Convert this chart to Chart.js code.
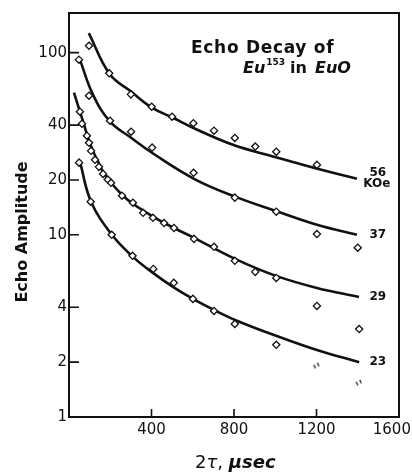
<!DOCTYPE html>
<html>
<head>
<meta charset="utf-8">
<script src="https://cdn.jsdelivr.net/npm/chart.js@4.4.0/dist/chart.umd.min.js"></script>
<style>
  html, body { margin: 0; background: #fff; }
</style>
</head>
<body>
<canvas id="chartEcho" width="412" height="472"></canvas>
<script>
// tick values
const xTicks = [400, 800, 1200, 1600];
const yTicks = [1, 2, 4, 10, 20, 40, 100];

// measured points, 2tau (usec) vs echo amplitude
const tau56 = [97, 195, 300, 401, 500, 603, 703, 804, 903, 1005, 1202];
const amp56 = [109, 77, 59, 50.5, 44.5, 41, 37.3, 34, 30.5, 28.6, 24.2];
const tau37 = [48, 97, 199, 301, 403, 604, 804, 1005, 1202, 1400];
const amp37 = [91.5, 58, 42.3, 36.8, 30.1, 21.9, 16, 13.4, 10.1, 8.5];
const tau29 = [53, 63, 87, 97, 107, 126, 145, 165, 188, 204, 257, 310, 359, 407, 461, 509, 606, 703, 804, 903, 1005, 1202, 1407];
const amp29 = [47.4, 40.7, 35.0, 32.0, 28.9, 25.8, 23.6, 21.6, 20.1, 19.3, 16.4, 15.0, 13.2, 12.4, 11.6, 10.9, 9.5, 8.59, 7.2, 6.26, 5.8, 4.07, 3.04];
const tau23 = [49, 105, 207, 308, 409, 508, 601, 703, 804, 1005];
const amp23 = [24.9, 15.2, 10.0, 7.67, 6.5, 5.45, 4.45, 3.82, 3.24, 2.49];
// the two broken marks at the end of 23
const tau23b = [1202, 1407];
const amp23b = [1.91, 1.54];

// drawn curves
const fitTau56 = [96, 197, 301, 402, 504, 601, 795, 960, 1120, 1280, 1396];
const fitAmp56 = [128, 76.3, 61.1, 49.9, 43.9, 38.7, 31.2, 27.5, 24.5, 21.9, 20.3];
const fitTau37 = [53, 116, 199, 301, 402, 606, 805, 1004, 1202, 1396];
const fitAmp37 = [91.5, 58.8, 41.8, 34.1, 28.2, 20.3, 16.2, 13.5, 11.35, 10.0];
const fitTau29 = [24, 53, 73, 92, 116, 141, 165, 204, 257, 310, 407, 509, 606, 805, 1004, 1202, 1406];
const fitAmp29 = [60.3, 47.4, 40.2, 34.1, 28.9, 25.2, 22.2, 19.3, 16.6, 14.8, 12.6, 10.9, 9.63, 7.38, 5.95, 5.11, 4.56];
const fitTau23 = [53, 107, 208, 310, 407, 504, 601, 703, 805, 1004, 1202, 1407];
const fitAmp23 = [25.2, 15.2, 10.0, 7.57, 6.18, 5.18, 4.45, 3.87, 3.41, 2.79, 2.33, 2.0];

const fieldLabels = ['56', '37', '29', '23'];

const ink = '#111';

function zip(xs, ys) {
    return xs.map((x, i) => ({ x: x, y: ys[i] }));
}

// little "ı ı" mark for the broken diamonds
let brokenMark = document.createElement('canvas');
brokenMark.width = 9;
brokenMark.height = 10;
let bctx = brokenMark.getContext('2d');
bctx.strokeStyle = ink;
bctx.lineWidth = 1.2;
bctx.beginPath();
bctx.moveTo(1.5, 4); bctx.lineTo(3, 7.5);
bctx.moveTo(5, 2); bctx.lineTo(6.5, 5.5);
bctx.stroke();

function curve(xs, ys) {
    return {
        data: zip(xs, ys),
        borderColor: ink,
        borderWidth: 2.6,
        pointRadius: 0,
        fill: false,
        tension: 0.4,
        order: 1
    };
}

function marks(xs, ys) {
    return {
        data: zip(xs, ys),
        showLine: false,
        pointStyle: 'rectRot',
        pointRadius: 3.6,
        pointBorderWidth: 1.3,
        pointBorderColor: ink,
        pointBackgroundColor: '#fff',
        order: 0
    };
}

// frame, inward ticks and the lettering
const decorations = {
    id: 'decorations',
    afterDraw(chart) {
        const ctx = chart.ctx;
        const area = chart.chartArea;
        const xs = chart.scales.x;
        const ys = chart.scales.y;
        ctx.save();
        ctx.strokeStyle = ink;
        ctx.fillStyle = ink;
        ctx.lineWidth = 2;
        ctx.strokeRect(area.left, area.top, area.right - area.left, area.bottom - area.top);

        ctx.lineWidth = 1.6;
        ctx.beginPath();
        yTicks.forEach(v => {
            if (v === 1) return;
            let y = ys.getPixelForValue(v);
            ctx.moveTo(area.left, y);
            ctx.lineTo(area.left + 10, y);
        });
        xTicks.forEach(v => {
            if (v === 1600) return;
            let x = xs.getPixelForValue(v);
            ctx.moveTo(x, area.bottom);
            ctx.lineTo(x, area.bottom - 8);
        });
        ctx.stroke();

        // heading
        ctx.textAlign = 'left';
        ctx.textBaseline = 'alphabetic';
        ctx.font = 'bold 17px "DejaVu Sans"';
        ctx.letterSpacing = '0.7px';
        ctx.fillText('Echo Decay of', 191, 53);
        ctx.letterSpacing = '0px';
        let hx = 243;
        ctx.font = 'italic bold 16px "DejaVu Sans"';
        ctx.fillText('Eu', hx, 73);
        hx += ctx.measureText('Eu').width + 1;
        ctx.font = 'bold 9px "DejaVu Sans"';
        ctx.fillText('153', hx, 65);
        hx += ctx.measureText('153').width + 5;
        ctx.font = 'bold 16px "DejaVu Sans"';
        ctx.fillText('in', hx, 73);
        ctx.font = 'italic bold 16px "DejaVu Sans"';
        ctx.fillText('EuO', 315, 73);

        // field labels at the end of each curve
        ctx.textAlign = 'center';
        ctx.textBaseline = 'middle';
        ctx.font = 'bold 12px "DejaVu Sans"';
        let lx = xs.getPixelForValue(1400) + 20;
        let ends = [fitAmp56, fitAmp37, fitAmp29, fitAmp23].map(a => a[a.length - 1]);
        fieldLabels.forEach((lab, i) => {
            let y = ys.getPixelForValue(ends[i]);
            if (i === 0) {
                ctx.fillText(lab, lx, y - 6);
                ctx.fillText('KOe', lx - 1, y + 5);
            } else {
                ctx.fillText(lab, lx, y);
            }
        });

        // axis titles
        ctx.save();
        ctx.translate(27, 232);
        ctx.rotate(-Math.PI / 2);
        ctx.textAlign = 'center';
        ctx.textBaseline = 'alphabetic';
        ctx.font = 'bold 16px "DejaVu Sans"';
        ctx.fillText('Echo Amplitude', 0, 0);
        ctx.restore();

        ctx.textAlign = 'left';
        ctx.textBaseline = 'alphabetic';
        let parts = [
            ['2', '18px "DejaVu Sans"'],
            ['\u03c4', 'italic 18px "DejaVu Sans"'],
            [', ', '18px "DejaVu Sans"'],
            ['\u03bcsec', 'italic bold 18px "DejaVu Sans"']
        ];
        let tx = 195;
        parts.forEach(p => {
            ctx.font = p[1];
            ctx.fillText(p[0], tx, 468);
            tx += ctx.measureText(p[0]).width;
        });
        ctx.restore();
    }
};

let ctxEcho = document.getElementById('chartEcho').getContext('2d');

let chartEcho = new Chart(ctxEcho, {
    type: 'line',
    data: {
        datasets: [
            marks(tau56, amp56),
            marks(tau37, amp37),
            marks(tau29, amp29),
            marks(tau23, amp23),
            Object.assign(marks(tau23b, amp23b), { pointStyle: brokenMark }),
            curve(fitTau56, fitAmp56),
            curve(fitTau37, fitAmp37),
            curve(fitTau29, fitAmp29),
            curve(fitTau23, fitAmp23)
        ]
    },
    options: {
        responsive: false,
        animation: false,
        devicePixelRatio: 1,
        layout: { padding: { left: 0, right: 13, top: 13, bottom: 0 } },
        plugins: {
            legend: { display: false },
            tooltip: { enabled: false }
        },
        scales: {
            x: {
                type: 'linear',
                min: 0,
                max: 1600,
                grid: { display: false, drawTicks: false },
                border: { display: false },
                afterBuildTicks: s => { s.ticks = xTicks.map(v => ({ value: v })); },
                afterFit: s => { s.height = 55; s.paddingLeft = 0; s.paddingRight = 0; },
                ticks: {
                    color: ink,
                    font: { family: 'DejaVu Sans', size: 15 },
                    padding: 4,
                    maxRotation: 0,
                    autoSkip: false,
                    // 1600 sits pulled in from the corner
                    callback: v => v === 1600 ? '1600   ' : String(v)
                }
            },
            y: {
                type: 'logarithmic',
                min: 1,
                max: 165,
                grid: { display: false, drawTicks: false },
                border: { display: false },
                afterBuildTicks: s => { s.ticks = yTicks.map(v => ({ value: v })); },
                afterFit: s => { s.width = 69; s.paddingTop = 0; s.paddingBottom = 0; },
                ticks: {
                    color: ink,
                    font: { family: 'DejaVu Sans', size: 15 },
                    padding: 2,
                    autoSkip: false,
                    callback: v => String(v)
                }
            }
        }
    },
    plugins: [decorations]
});
</script>
</body>
</html>
